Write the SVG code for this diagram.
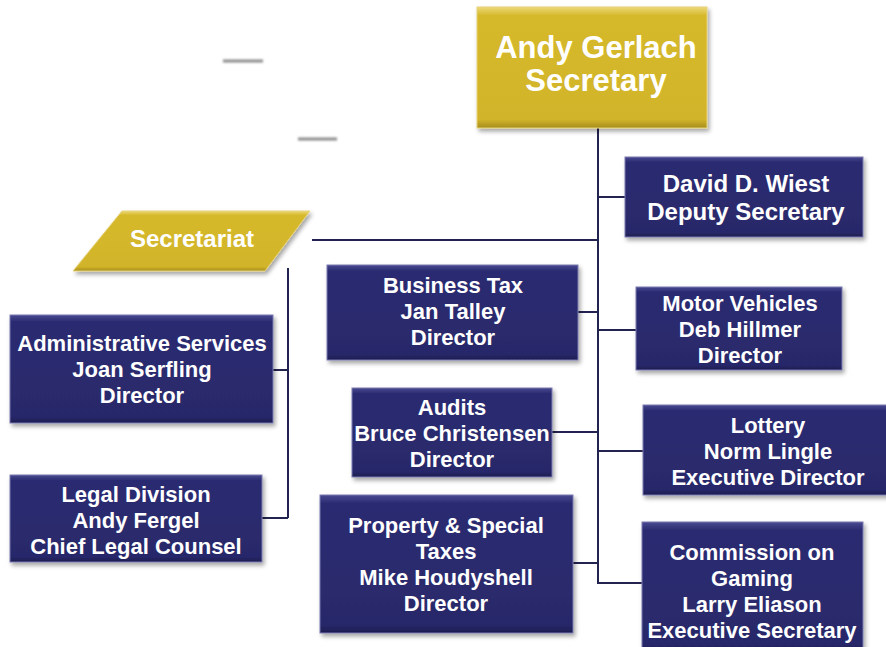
<svg xmlns="http://www.w3.org/2000/svg" width="886" height="647" viewBox="0 0 886 647">
<defs>
<filter id="sh" x="-10%" y="-10%" width="120%" height="130%">
<feDropShadow dx="2" dy="3" stdDeviation="2" flood-color="#000" flood-opacity="0.35"/>
</filter>
<filter id="bl"><feGaussianBlur stdDeviation="0.8"/></filter>
<linearGradient id="navy" x1="0" y1="0" x2="0" y2="1">
<stop offset="0" stop-color="#4a4a92"/>
<stop offset="0.06" stop-color="#2c2c72"/>
<stop offset="0.94" stop-color="#28286a"/>
<stop offset="1" stop-color="#1c1c50"/>
</linearGradient>
<linearGradient id="gold" x1="0" y1="0" x2="0" y2="1">
<stop offset="0" stop-color="#ecd97a"/>
<stop offset="0.07" stop-color="#d6b92c"/>
<stop offset="0.93" stop-color="#d2b42a"/>
<stop offset="1" stop-color="#a68c1c"/>
</linearGradient>
</defs>
<style>
.n{fill:url(#navy);stroke:#7a7ab0;stroke-width:1;filter:url(#sh)}
.g{fill:url(#gold);stroke:#e6d27a;stroke-width:1;filter:url(#sh)}
text{font-family:"Liberation Sans",Arial,sans-serif;font-weight:bold;fill:#fff;text-anchor:middle}
.t{font-size:22px}
.c{fill:none;stroke:#23234f;stroke-width:2}
</style>
<rect width="886" height="647" fill="#fff"/>
<g id="marks" filter="url(#bl)">
<line x1="223" y1="61" x2="263" y2="61" stroke="#8c8c8c" stroke-width="3"/>
<line x1="298" y1="139" x2="337" y2="139" stroke="#8c8c8c" stroke-width="3"/>
</g>
<g id="connectors">
<path class="c" d="M598 128 V583 H642"/>
<path class="c" d="M598 197 H625"/>
<path class="c" d="M312 240 H598"/>
<path class="c" d="M578 312 H598"/>
<path class="c" d="M598 330 H636"/>
<path class="c" d="M552 432 H598"/>
<path class="c" d="M598 451 H643"/>
<path class="c" d="M573 563 H598"/>
<path class="c" d="M288 268 V518"/>
<path class="c" d="M273 370 H288"/>
<path class="c" d="M262 518 H288"/>
</g>
<g id="secretary">
<rect class="g" x="477" y="7" width="230" height="121"/>
<text x="596" y="58" font-size="31">Andy Gerlach</text>
<text x="596" y="91" font-size="31">Secretary</text>
</g>
<g id="secretariat">
<polygon class="g" points="122,211 310,211 265,271 73,271"/>
<text x="192" y="247" font-size="24">Secretariat</text>
</g>
<g id="deputy">
<rect class="n" x="625" y="157" width="238" height="80"/>
<text x="746" y="192" font-size="24">David D. Wiest</text>
<text x="746" y="220" font-size="24">Deputy Secretary</text>
</g>
<g id="business-tax">
<rect class="n" x="327" y="265" width="251" height="95"/>
<text class="t" x="453" y="293">Business Tax</text>
<text class="t" x="453" y="319">Jan Talley</text>
<text class="t" x="453" y="345">Director</text>
</g>
<g id="motor-vehicles">
<rect class="n" x="636" y="287" width="206" height="83"/>
<text class="t" x="740" y="311">Motor Vehicles</text>
<text class="t" x="740" y="337">Deb Hillmer</text>
<text class="t" x="740" y="363">Director</text>
</g>
<g id="admin">
<rect class="n" x="10" y="315" width="263" height="108"/>
<text class="t" x="142" y="351">Administrative Services</text>
<text class="t" x="142" y="377">Joan Serfling</text>
<text class="t" x="142" y="403">Director</text>
</g>
<g id="legal">
<rect class="n" x="10" y="475" width="252" height="87"/>
<text class="t" x="136" y="502">Legal Division</text>
<text class="t" x="136" y="528">Andy Fergel</text>
<text class="t" x="136" y="554">Chief Legal Counsel</text>
</g>
<g id="audits">
<rect class="n" x="352" y="388" width="200" height="89"/>
<text class="t" x="452" y="415">Audits</text>
<text class="t" x="452" y="441">Bruce Christensen</text>
<text class="t" x="452" y="467">Director</text>
</g>
<g id="property">
<rect class="n" x="320" y="495" width="253" height="138"/>
<text class="t" x="446" y="533">Property &amp; Special</text>
<text class="t" x="446" y="559">Taxes</text>
<text class="t" x="446" y="585">Mike Houdyshell</text>
<text class="t" x="446" y="611">Director</text>
</g>
<g id="lottery">
<rect class="n" x="643" y="405" width="250" height="90"/>
<text class="t" x="768" y="433">Lottery</text>
<text class="t" x="768" y="459">Norm Lingle</text>
<text class="t" x="768" y="485">Executive Director</text>
</g>
<g id="gaming">
<rect class="n" x="642" y="522" width="221" height="130"/>
<text class="t" x="752" y="560">Commission on</text>
<text class="t" x="752" y="586">Gaming</text>
<text class="t" x="752" y="612">Larry Eliason</text>
<text class="t" x="752" y="638">Executive Secretary</text>
</g>
</svg>
